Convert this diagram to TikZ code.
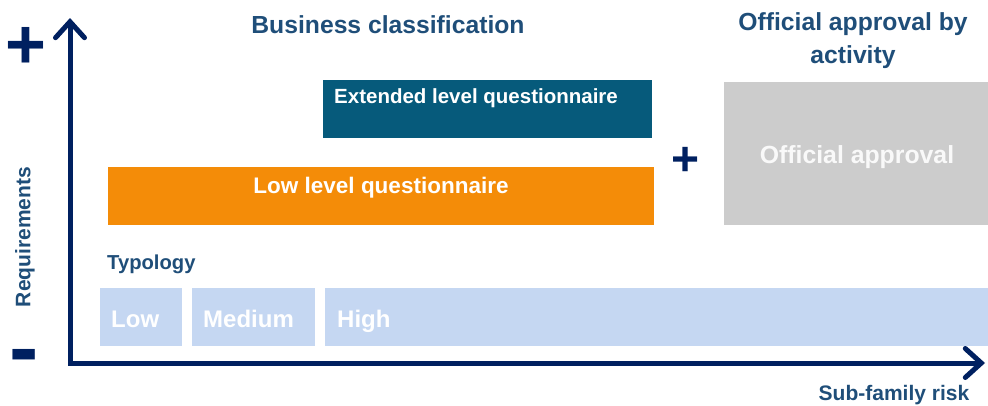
\documentclass[tikz,border=0pt]{standalone}
\usepackage{fontspec}
\setmainfont{Liberation Sans}
\usetikzlibrary{arrows.meta}
\definecolor{navy}{HTML}{002060}
\definecolor{txtblue}{HTML}{1F4E79}
\definecolor{teal}{HTML}{065A7B}
\definecolor{orng}{HTML}{F48C08}
\definecolor{grayb}{HTML}{CCCCCC}
\definecolor{lblue}{HTML}{C5D7F2}
\tikzset{
  box/.style={rectangle, draw=none, inner sep=0pt, anchor=north west},
  lbl/.style={inner sep=0pt, font=\bfseries, text=txtblue},
  wlbl/.style={inner sep=0pt, font=\bfseries, text=white},
  barbtip/.tip={Straight Barb[length=16pt,width=29pt,line width=5pt,line cap=round,line join=miter]},
  axis/.style={draw=navy, line width=5pt, line join=miter},
}
\newcommand{\fs}[1]{\fontsize{#1}{#1}\selectfont}
\begin{document}
\begin{tikzpicture}[x=1pt,y=-1pt]
\useasboundingbox (0,0) rectangle (988,405);
% axes
\coordinate (ytip) at (70,18);
\coordinate (O) at (70,363);
\coordinate (xtip) at (985,363);
\draw[axis,barbtip-barbtip] (ytip) -- (O) -- (xtip);
% plus / minus
\node[inner sep=0pt, anchor=base, text=navy, font=\bfseries\fs{70}] (plus) at (26,68) {+};
\node[inner sep=0pt, anchor=base, text=navy, font=\bfseries\fs{88}] (minus) at (24,377) {-};
\node[lbl, rotate=90, font=\bfseries\fs{21}] (req) at (25,237) {Requirements};
% titles
\node[lbl, font=\bfseries\fs{24.7}, anchor=base] (bc) at (388,33) {Business classification};
\node[lbl, font=\bfseries\fs{24.7}, anchor=base] (oaa1) at (853,30) {Official approval by};
\node[lbl, font=\bfseries\fs{24.7}, anchor=base] (oaa2) at (853,63) {activity};
% boxes
\node[box, fill=teal, minimum width=329pt, minimum height=58pt] (ext) at (323,80) {};
\node[wlbl, font=\bfseries\fs{20.5}, anchor=base west] (extt) at (334,103) {Extended level questionnaire};
\node[box, fill=orng, minimum width=546pt, minimum height=58pt] (low) at (108,167) {};
\node[wlbl, font=\bfseries\fs{22.5}, anchor=base] (lowt) at (381,193) {Low level questionnaire};
\node[inner sep=0pt, anchor=base, text=navy, font=\bfseries\fs{48}] (plus2) at (686,175) {+};
\node[box, fill=grayb, minimum width=264pt, minimum height=143pt] (off) at (724,82) {};
\node[inner sep=0pt, font=\bfseries\fs{24.8}, text=white!95!gray, anchor=base] (offt) at (857,163) {Official approval};
% typology
\node[lbl, font=\bfseries\fs{20.2}, anchor=base west] (typ) at (107,269) {Typology};
\node[box, fill=lblue, minimum width=82pt, minimum height=58pt] (tl) at (100,288) {};
\node[box, fill=lblue, minimum width=123pt, minimum height=58pt] (tm) at (192,288) {};
\node[box, fill=lblue, minimum width=663pt, minimum height=58pt] (th) at (325,288) {};
\node[wlbl, font=\bfseries\fs{24}, anchor=base west] (tlt) at (111,327) {Low};
\node[wlbl, font=\bfseries\fs{24}, anchor=base west] (tmt) at (203,327) {Medium};
\node[wlbl, font=\bfseries\fs{24}, anchor=base west] (tht) at (337,327) {High};
% x label
\node[lbl, font=\bfseries\fs{21}, anchor=base] (sfr) at (894,400) {Sub-family risk};
\end{tikzpicture}
\end{document}
